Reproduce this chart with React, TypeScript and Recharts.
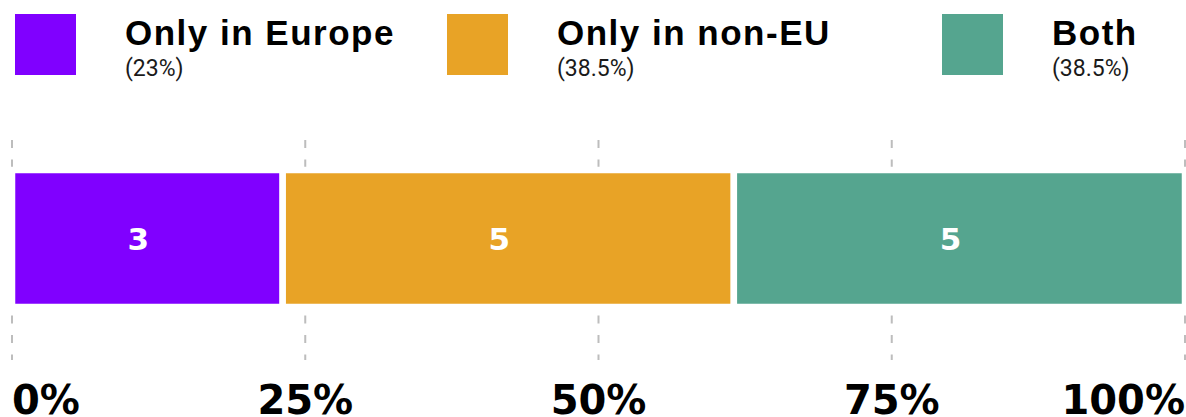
import React from 'react';
import { BarChart, Bar, XAxis, YAxis, CartesianGrid, LabelList } from 'recharts';

// ---- data ----
const categories = ['Row'];
const seriesKeys = ['europe', 'nonEu', 'both'];
const seriesNames = ['Only in Europe', 'Only in non-EU', 'Both'];
const seriesValues = [3, 5, 5];
const seriesShares = ['(23%)', '(38.5%)', '(38.5%)'];
const tickFractions = [0, 0.25, 0.5, 0.75, 1];
const tickLabels = ['0%', '25%', '50%', '75%', '100%'];

// ---- styles ----
const seriesColors = ['#8000FF', '#E8A326', '#55A58F'];
const legendLefts = [15, 447, 942];
const W = 1186;
const H = 417;

const total = seriesValues.reduce((a, b) => a + b, 0);
const ticks = tickFractions.map((f) => f * total);
const chartData = categories.map((name) => {
  const row: Record<string, any> = { name };
  seriesKeys.forEach((k, i) => {
    row[k] = seriesValues[i];
  });
  return row;
});

const TickLabel = (props: any) => {
  const { x, y, payload } = props;
  const v = payload.value;
  const idx = ticks.findIndex((t) => Math.abs(t - v) < 1e-9);
  const anchor = idx === 0 ? 'start' : idx === ticks.length - 1 ? 'end' : 'middle';
  return (
    <text
      x={x}
      y={y}
      dy={77}
      textAnchor={anchor}
      fontFamily="DejaVu Sans"
      fontWeight={700}
      fontSize={40}
      fill="#000"
    >
      {tickLabels[idx]}
    </text>
  );
};

const GridLine = (props: any) => {
  const { x1, x2, y1, y2 } = props;
  return (
    <line
      key={props.key ?? `g-${x1}`}
      x1={x1}
      x2={x2}
      y1={y1}
      y2={y2 + 23}
      stroke="#BDBDBD"
      strokeWidth={2}
      strokeDasharray="8 11.5"
    />
  );
};

const BarLabel = (props: any) => {
  const { x, y, width, height, value } = props;
  return (
    <text
      x={x + width / 2 - 9}
      y={y + height / 2}
      dy={11}
      textAnchor="middle"
      fontFamily="DejaVu Sans"
      fontWeight={700}
      fontSize={31}
      fill="#fff"
    >
      {value}
    </text>
  );
};

const LegendBar = () => (
  <svg width={W} height={100} style={{ position: 'absolute', left: 0, top: 0 }}>
    {seriesNames.map((n, i) => (
      <g key={n}>
        <rect x={legendLefts[i]} y={14} width={61} height={61} fill={seriesColors[i]} />
        <text
          x={legendLefts[i] + 110}
          y={45}
          fontFamily="Liberation Sans"
          fontWeight={700}
          fontSize={35}
          letterSpacing={1.5}
          fill="#000"
        >
          {n}
        </text>
        <text
          x={legendLefts[i] + 110}
          y={76}
          fontFamily="Roboto"
          fontSize={23}
          fill="#1a1a1a"
        >
          {seriesShares[i]}
        </text>
      </g>
    ))}
  </svg>
);

export default function App() {
  return (
    <div style={{ position: 'absolute', left: 0, top: 0, width: W, height: H, background: '#fff', overflow: 'hidden' }}>
      <BarChart
        width={W}
        height={H}
        data={chartData}
        layout="vertical"
        margin={{ top: 140, right: 1, bottom: 0, left: 12 }}
        barCategoryGap={0}
      >
        <CartesianGrid horizontal={false} vertical={GridLine} />
        <XAxis
          type="number"
          domain={[0, total]}
          ticks={ticks}
          interval={0}
          axisLine={false}
          tickLine={false}
          tickSize={0}
          tickMargin={0}
          height={80}
          tick={TickLabel}
        />
        <YAxis type="category" dataKey="name" hide />
        {seriesKeys.map((k, i) => (
          <Bar
            key={k}
            dataKey={k}
            name={seriesNames[i]}
            stackId="a"
            fill={seriesColors[i]}
            stroke="#fff"
            strokeWidth={6.5}
            barSize={137}
            isAnimationActive={false}
          >
            <LabelList dataKey={k} content={BarLabel} />
          </Bar>
        ))}
      </BarChart>
      <LegendBar />
    </div>
  );
}
